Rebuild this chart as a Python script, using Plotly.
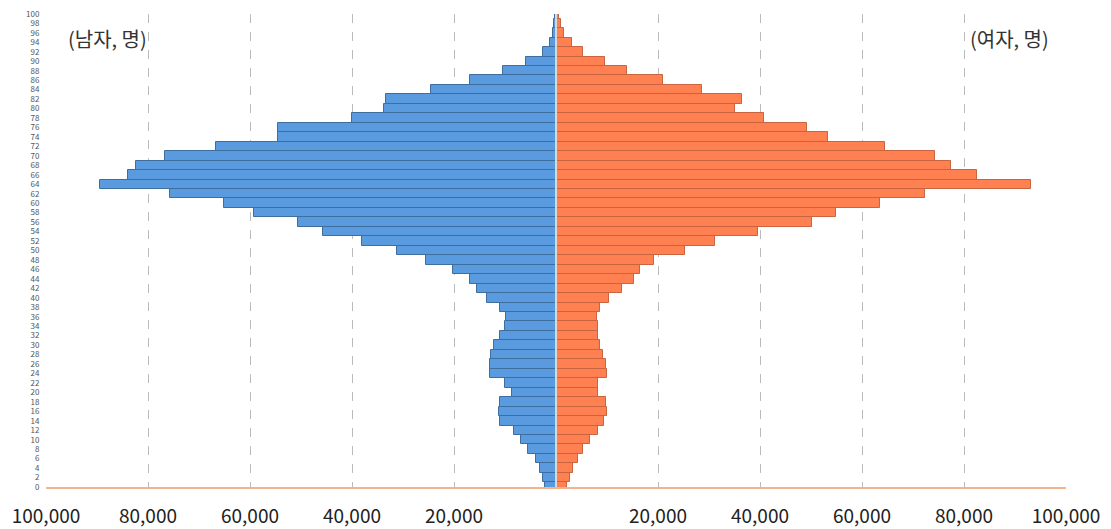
import plotly.graph_objects as go

ages = list(range(0, 101, 2))
male = [2200, 2550, 3140, 3900, 5500, 6900, 8200, 11000, 11200, 11000,
        8600, 10000, 12900, 12900, 12700, 12200, 11000, 10000, 9800, 11000,
        13500, 15500, 16900, 20200, 25500, 31200, 38000, 45700, 50600, 59200,
        65100, 75700, 89400, 83900, 82400, 76700, 66700, 54500, 54500, 40000,
        33700, 33300, 24500, 16900, 10300, 5800, 2600, 1200, 600, 300, 200]
female = [2150, 2750, 3300, 4300, 5300, 6700, 8200, 9400, 10000, 9800,
          8200, 8200, 10000, 9800, 9200, 8600, 8200, 8200, 8000, 8600,
          10400, 12900, 15300, 16500, 19200, 25300, 31200, 39600, 50200, 54900,
          63500, 72400, 93100, 82500, 77500, 74300, 64500, 53300, 49200, 40800,
          35100, 36500, 28600, 21000, 14000, 9600, 5300, 3100, 1600, 900, 500]

xtick_vals = [-100000, -80000, -60000, -40000, -20000, 20000, 40000, 60000, 80000, 100000]
xtick_text = ["100,000", "80,000", "60,000", "40,000", "20,000",
              "20,000", "40,000", "60,000", "80,000", "100,000"]

fig = go.Figure()
fig.add_trace(go.Bar(
    y=ages, x=[-v for v in male], orientation="h", width=2,
    marker=dict(color="#5A9BDF", line=dict(color="#3D6E9E", width=1)),
    name="남자", hoverinfo="skip"))
fig.add_trace(go.Bar(
    y=ages, x=female, orientation="h", width=2,
    marker=dict(color="#FF8050", line=dict(color="#C8643F", width=1)),
    name="여자", hoverinfo="skip"))

fig.add_shape(type="line", xref="x", yref="paper", x0=0, x1=0, y0=0, y1=1,
              line=dict(color="#D8D8D8", width=2), layer="above")

fig.add_annotation(x=0.060, y=0.949, xref="paper", yref="paper",
                   text="(남자, 명)", showarrow=False, xanchor="center", yanchor="middle",
                   font=dict(size=20, color="#333333", family="Noto Sans CJK KR"))
fig.add_annotation(x=0.945, y=0.949, xref="paper", yref="paper",
                   text="(여자, 명)", showarrow=False, xanchor="center", yanchor="middle",
                   font=dict(size=20, color="#333333", family="Noto Sans CJK KR"))

fig.update_layout(
    width=1111, height=529,
    margin=dict(l=46, r=45, t=14, b=42),
    paper_bgcolor="white", plot_bgcolor="white",
    barmode="overlay", bargap=0, showlegend=False,
    font=dict(family="Noto Sans CJK KR", color="#222222"),
    xaxis=dict(range=[-100000, 100000], tickvals=xtick_vals, ticktext=xtick_text,
               automargin=False,
               showgrid=True, gridcolor="#BBBBBB", griddash="dash", gridwidth=1,
               zeroline=False, showline=True, linecolor="#F2B48C", linewidth=2,
               ticks="outside", ticklen=11, tickcolor="rgba(0,0,0,0)",
               tickfont=dict(size=19, color="#222222")),
    yaxis=dict(range=[0, 100], tickvals=ages, ticktext=[str(a) for a in ages],
               automargin=False,
               showgrid=False, zeroline=False, showline=False,
               ticks="outside", ticklen=4, tickcolor="rgba(0,0,0,0)",
               tickfont=dict(size=8, color="#555555")),
)

fig.write_html("out.html", config={"displayModeBar": False})

with open("out.html", "r", encoding="utf-8") as f:
    html = f.read()
html = html.replace("<head>", "<head><style>html,body{margin:0;padding:0;overflow:hidden;}</style>", 1)
with open("out.html", "w", encoding="utf-8") as f:
    f.write(html)
